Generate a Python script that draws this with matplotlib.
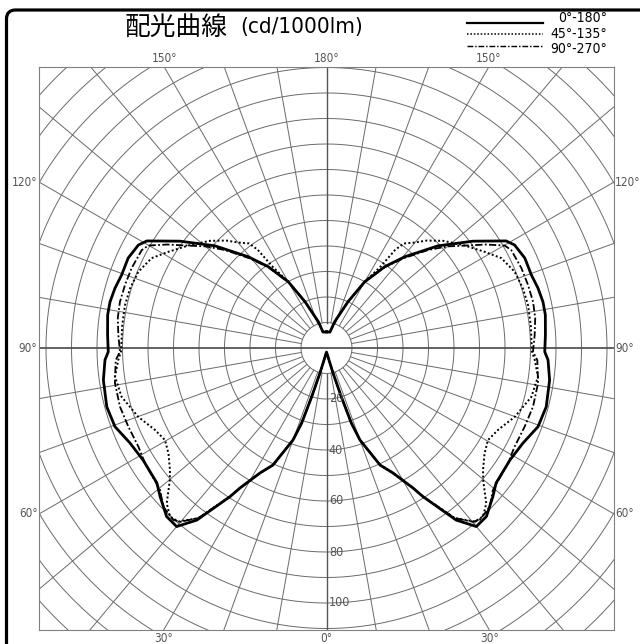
import numpy as np
import matplotlib
matplotlib.use("Agg")
import matplotlib.pyplot as plt
from matplotlib import font_manager as fm
from matplotlib.lines import Line2D
from matplotlib.patches import FancyBboxPatch

# ---------------- data (angle from nadir in degrees, intensity in cd/1000lm) ----------------
theta_0_180 = [0, 10, 12.6, 14.6, 16.9, 18.3, 20, 24.6, 28, 31.7, 33, 37, 40, 43.5, 48.2,
               51.5, 58.6, 64.2, 69.6, 75, 81.8, 86.9, 89, 93.4, 98.6, 102, 105.8, 109.6,
               114.4, 118.7, 120.8, 126.1, 132.5, 139.4, 144.4, 150, 155.1, 162.7, 167.7, 180]
r_0_180 = [1.6, 3.7, 5.8, 10.1, 20, 31, 38.4, 50.5, 55.5, 64.5, 69.5, 84.5, 91.4, 91.1, 87.5,
           85, 84.3, 85.6, 88.5, 89.2, 88.4, 87, 85.6, 86, 86.8, 86.8, 86.2, 85.3,
           85.4, 84.1, 82, 71.1, 59.3, 47.1, 39.2, 30, 20, 10.8, 6.4, 6.3]

theta_45_135 = [0, 10, 12.6, 14.6, 16.9, 18.3, 20, 24.6, 28, 31.7, 33, 37, 40.5, 42.9, 45.8,
                49.9, 52.1, 56.3, 60.3, 64.4, 69.9, 76.6, 82.3, 86.7, 89, 96.4, 102, 106.9,
                112.1, 117.2, 121.3, 127, 132.6, 137.1, 140, 143.5, 145, 146.5, 150, 155.1,
                162.7, 167.7, 180]
r_45_135 = [1.6, 3.7, 5.8, 10.1, 20, 31, 38.4, 50.5, 55.5, 64.5, 69.5, 83.5, 89.5, 90.2, 87.4,
            80.3, 77.8, 74.5, 72.9, 74.5, 78.6, 82.6, 83.7, 81.8, 80.6, 80.6, 80.8, 80.5,
            79.6, 77.1, 72.6, 67.1, 62.1, 57.5, 54, 51, 47, 38, 30, 20,
            10.8, 6.4, 6.3]

theta_90_270 = [0, 10, 12.6, 14.6, 16.9, 18.3, 20, 24.6, 28, 31.7, 33, 37, 40.1, 41.7, 45.8,
                49.5, 57.6, 62.3, 68.3, 74.1, 80.6, 86.7, 89, 93.6, 98.2, 102.6, 107.4,
                112.3, 117.9, 119.9, 123, 126, 130, 134, 139.4, 144.4, 150, 155.1, 162.7,
                167.7, 180]
r_90_270 = [1.6, 3.7, 5.8, 10.1, 20, 31, 38.4, 50.5, 55.5, 64.5, 69.5, 83.5, 89.1, 90.3, 89.3,
            85.8, 84.3, 83.3, 83.6, 84.2, 84.1, 82.8, 81, 81.8, 82.7, 83, 82.8,
            82.6, 82, 80.6, 74.5, 68.4, 62, 55.3, 46.3, 38.8, 29.8, 20, 10.8,
            6.4, 6.3]

legend_labels = ["0°-180°", "45°-135°", "90°-270°"]
title_main = "配光曲線"
title_unit = "(cd/1000lm)"
angle_labels_top = [150, 180, 150]
angle_labels_bottom = [30, 0, 30]
angle_labels_side = [120, 90, 60]
radial_ticks = [20, 40, 60, 80, 100]

# ---------------- fonts: look for a narrow / condensed face ----------------
cond_words = ("condensed", "narrow", "semi-condensed", "extra-condensed", "ultra-condensed")
narrow_prop = None
for f in fm.fontManager.ttflist:
    st = str(f.stretch).lower()
    nm = f.name.lower()
    is_cond = (st in cond_words) or ("narrow" in nm) or ("condensed" in nm)
    try:
        is_cond = is_cond or (int(f.stretch) < 500)
    except Exception:
        pass
    if is_cond and f.style == "normal" and str(f.weight) in ("400", "normal", "regular", "book"):
        narrow_prop = fm.FontProperties(fname=f.fname)
        break

if narrow_prop is not None:
    def nfp(size):
        p = narrow_prop.copy()
        p.set_size(size)
        return p
    sz_unit, sz_leg, sz_tick = 16, 10, 8.5
else:
    def nfp(size):
        return fm.FontProperties(family=["Liberation Sans", "DejaVu Sans"], size=size)
    sz_unit, sz_leg, sz_tick = 13.5, 9, 7.5

cjk_fam = ["Noto Sans CJK JP", "DejaVu Sans"]

W, H = 640, 644
fig = plt.figure(figsize=(W / 100, H / 100), dpi=100)
fx = lambda px: px / W
fy = lambda py: 1 - py / H

# outer rounded frame (extends past right/bottom edge)
frame = FancyBboxPatch((fx(6.5), fy(700)), fx(720), (700 - 10) / H,
                       boxstyle="round,pad=0,rounding_size=0.014",
                       transform=fig.transFigure, fill=False, lw=2.3, ec="black")
fig.add_artist(frame)

# ---------------- axes ----------------
scale = 2.55  # px per unit
cx, cy = 326.5, 348
L, R, T, B = 39, 614, 67, 630
ax = fig.add_axes([fx(L), fy(B), (R - L) / W, (B - T) / H])
ax.set_xlim(-(cx - L) / scale, (R - cx) / scale)
ax.set_ylim(-(B - cy) / scale, (cy - T) / scale)
ax.set_xticks([])
ax.set_yticks([])
for s in ax.spines.values():
    s.set_color("#808080")
    s.set_linewidth(0.8)

gcol = "#6a6a6a"
phi = np.linspace(0, 2 * np.pi, 721)
for rr in range(10, 170, 10):
    ax.plot(rr * np.cos(phi), rr * np.sin(phi), color=gcol, lw=0.7, zorder=1)
for a in range(0, 360, 10):
    if a in (90, 270):
        continue
    t = np.deg2rad(a)
    col, lw = (("#555555", 1.0) if a in (0, 180) else (gcol, 0.7))
    ax.plot([10 * np.sin(t), 170 * np.sin(t)], [-10 * np.cos(t), -170 * np.cos(t)],
            color=col, lw=lw, zorder=1)
ax.plot([-200, 200], [0, 0], color="#555555", lw=1.3, zorder=1)


def curve(theta, r):
    t = np.deg2rad(np.asarray(theta, float))
    r = np.asarray(r, float)
    xl, yl = -r * np.sin(t), -r * np.cos(t)
    xr, yr = r * np.sin(t), -r * np.cos(t)
    return np.concatenate([xl[::-1], xr]), np.concatenate([yl[::-1], yr])


styles = [dict(color="black", lw=2.0, ls="-"),
          dict(color="black", lw=1.4, ls=(0, (1.0, 1.2))),
          dict(color="black", lw=1.3, ls=(0, (4, 1.3, 1.0, 1.3)))]
series = [(theta_0_180, r_0_180), (theta_45_135, r_45_135), (theta_90_270, r_90_270)]
for (th, rv), st in zip(series[::-1], styles[::-1]):
    x, y = curve(th, rv)
    ax.plot(x, y, zorder=3, solid_joinstyle="round", **st)

tcol = "#555555"
for v in radial_ticks:
    ax.text(0.9, -v, str(v), ha="left", va="center", fontproperties=nfp(sz_tick + 0.5),
            color=tcol, zorder=4)

ytop, ybot = ax.get_ylim()[1], ax.get_ylim()[0]
xl_, xr_ = ax.get_xlim()
for a, sgn in zip(angle_labels_top, [-1, 0, 1]):
    x = sgn * ytop * np.tan(np.deg2rad(180 - a)) if a != 180 else 0
    ax.text(x, ytop + 0.8, f"{a}°", ha="center", va="bottom", fontproperties=nfp(sz_tick),
            color=tcol, clip_on=False)
for a, sgn in zip(angle_labels_bottom, [-1, 0, 1]):
    x = sgn * (-ybot) * np.tan(np.deg2rad(a))
    ax.text(x, ybot - 0.8, f"{a}°", ha="center", va="top", fontproperties=nfp(sz_tick),
            color=tcol, clip_on=False)
for a in angle_labels_side:
    y = -xr_ / np.tan(np.deg2rad(a)) if a != 90 else 0
    ax.text(xl_ - 0.6, y, f"{a}°", ha="right", va="center", fontproperties=nfp(sz_tick),
            color=tcol, clip_on=False)
    ax.text(xr_ + 0.4, y, f"{a}°", ha="left", va="center", fontproperties=nfp(sz_tick),
            color=tcol, clip_on=False)

fig.text(fx(125), fy(28), title_main, ha="left", va="center", fontsize=18.5,
         family=cjk_fam, color="black")
fig.text(fx(240), fy(27), title_unit, ha="left", va="center",
         fontproperties=nfp(sz_unit), color="black")

# legend: sample lines + one multi-line label block
leg_y = [22.7, 34.3, 45.7]
for yy, st in zip(leg_y, styles):
    fig.add_artist(Line2D([fx(467), fx(543)], [fy(yy), fy(yy)], transform=fig.transFigure,
                          color="black", lw=st["lw"] * 0.8, ls=st["ls"]))
fig.text(fx(607), fy(33.5), "\n".join(legend_labels), ha="right", va="center",
         multialignment="right", linespacing=1.12, fontproperties=nfp(sz_leg),
         color="black")

fig.savefig("out.png", dpi=100)
